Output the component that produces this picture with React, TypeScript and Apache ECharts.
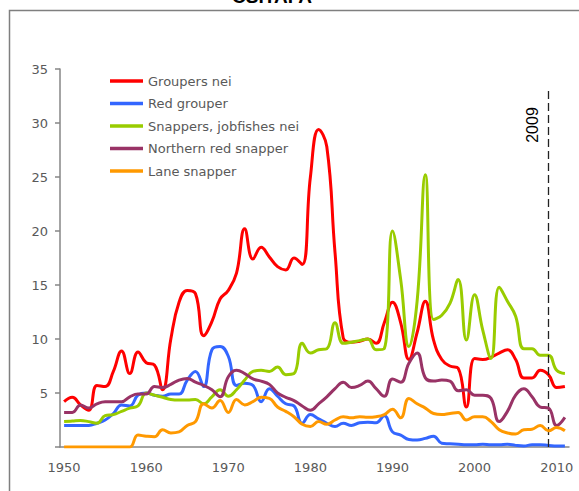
import React, { useEffect, useRef } from "react";
import * as echarts from "echarts";

const years: string[] = Array.from({ length: 62 }, (_, i) => String(1950 + i));

const groupersNei = [
  4.2, 4.6, 3.9, 3.4, 5.7, 5.6, 7.0, 8.9, 6.8, 8.8,
  7.8, 7.6, 5.3, 10.0, 13.4, 14.5, 14.2, 10.3, 11.6, 13.7,
  14.5, 16.1, 20.2, 17.4, 18.5, 17.6, 16.7, 16.4, 17.5, 16.9,
  25.0, 29.4, 27.8, 18.0, 10.1, 9.7, 9.8, 10.0, 9.6, 11.5,
  13.4, 11.5, 8.1, 10.6, 13.5, 9.9, 8.1, 7.5, 7.3, 3.7,
  8.2, 8.1, 8.3, 8.7, 9.0, 8.1, 6.4, 6.4, 7.1, 6.7,
  5.5, 5.6,
];

const redGrouper = [
  2.0, 2.0, 2.0, 2.0, 2.2, 2.5, 3.1, 3.9, 3.8, 4.8,
  5.0, 4.8, 4.7, 4.9, 4.9, 6.2, 7.0, 5.6, 9.0, 9.3,
  8.4, 5.7, 5.9, 5.7, 4.2, 5.4, 4.7, 4.0, 3.8, 2.2,
  3.0, 2.6, 2.2, 1.9, 2.2, 2.0, 2.25, 2.3, 2.25, 2.9,
  1.4, 1.1, 0.7, 0.65, 0.8, 1.0, 0.35, 0.3, 0.25, 0.2,
  0.2, 0.25, 0.2, 0.2, 0.25, 0.15, 0.1, 0.2, 0.2, 0.15,
  0.1, 0.1,
];

const snappersJobfishes = [
  2.35, 2.4, 2.45, 2.35, 2.2, 2.9, 3.0, 3.3, 3.6, 3.8,
  5.0, 4.8, 4.6, 4.4, 4.35, 4.35, 4.4, 4.0, 4.65, 5.3,
  4.7, 5.3, 6.2, 7.0, 7.1, 7.0, 7.4, 6.7, 6.8, 9.6,
  8.7, 9.0, 9.1, 11.5, 9.6, 9.7, 9.85, 10.0, 9.0, 9.1,
  20.0, 15.5, 9.3, 13.5, 25.2, 11.8, 12.2, 13.3, 15.5, 9.9,
  14.1, 10.8, 8.2, 14.8, 13.5, 12.1, 9.1, 9.1, 8.5, 8.5,
  7.1, 6.8,
];

const northernRedSnapper = [
  3.2, 3.2, 3.9, 3.6, 4.0, 4.2, 4.2, 4.2, 4.65, 4.9,
  4.9, 5.6, 5.5, 5.8, 6.2, 6.35, 6.0, 5.7, 5.3, 4.65,
  6.5, 7.1, 6.8, 6.3, 6.1, 5.8, 5.0, 4.6, 4.3, 3.8,
  3.4, 4.0, 4.65, 5.4, 6.0, 5.5, 5.7, 6.1, 5.4, 4.7,
  6.3, 6.0, 7.75, 8.7, 6.4, 6.1, 6.2, 6.1, 5.2, 5.3,
  4.8, 4.8, 4.5, 2.35, 3.3, 4.8, 5.4, 4.65, 3.7, 3.6,
  2.0, 2.75,
];

const laneSnapper = [
  0, 0, 0, 0, 0, 0, 0, 0, 0, 1.1,
  1.0, 0.95, 1.6, 1.3, 1.4, 2.0, 2.35, 4.0, 3.6, 4.3,
  3.2, 4.4, 3.9, 4.2, 4.6, 4.5, 3.7, 3.3, 2.8, 2.1,
  1.9, 2.35, 2.1, 2.5, 2.8, 2.7, 2.8, 2.75, 2.8, 3.0,
  3.5, 2.7, 4.5, 4.0, 3.6, 3.1, 3.0, 3.1, 3.2, 2.5,
  2.8, 2.8, 2.35, 1.6, 1.3, 1.2, 1.6, 1.65, 2.0, 1.5,
  1.8, 1.5,
];

const seriesNames = [
  "Groupers nei",
  "Red grouper",
  "Snappers, jobfishes nei",
  "Northern red snapper",
  "Lane snapper",
];
const seriesColors = ["#ff0000", "#3366ff", "#99cc00", "#993366", "#ff9900"];
const seriesData = [groupersNei, redGrouper, snappersJobfishes, northernRedSnapper, laneSnapper];

const markerYear = "2009";
const markerTop = 33;
const titleText = "CSITAFA";

export default function App() {
  const ref = useRef<HTMLDivElement>(null);
  useEffect(() => {
    const chart = echarts.init(ref.current!, null, { renderer: "svg" });
    const axisColor = "#868686";
    const labelColor = "#595959";
    const font = "DejaVu Sans";
    chart.setOption({
      animation: false,
      backgroundColor: "#ffffff",
      grid: { left: 60, right: 10, top: 69, bottom: 44, containLabel: false },
      legend: {
        data: seriesNames,
        orient: "vertical",
        left: 110,
        top: 74.5,
        padding: 0,
        icon: "rect",
        itemWidth: 33,
        itemHeight: 3.5,
        itemGap: 9.5,
        textStyle: { color: labelColor, fontSize: 13, fontFamily: font, lineHeight: 13 },
      },
      xAxis: {
        type: "category",
        data: years,
        boundaryGap: true,
        axisLine: { lineStyle: { color: axisColor, width: 1.5 } },
        axisTick: { interval: 9, alignWithLabel: false, length: 5, lineStyle: { color: axisColor, width: 1.5 } },
        axisLabel: { interval: 9, color: labelColor, fontSize: 13, fontFamily: font, margin: 14 },
        splitLine: { show: false },
      },
      yAxis: {
        type: "value",
        min: 0,
        max: 35,
        interval: 5,
        axisLine: { show: true, lineStyle: { color: axisColor, width: 1.5 } },
        axisTick: { show: true, length: 5, lineStyle: { color: axisColor, width: 1.5 } },
        axisLabel: {
          color: labelColor,
          fontSize: 13,
          fontFamily: font,
          margin: 12,
          formatter: (v: number) => (v === 0 ? "" : String(v)),
        },
        splitLine: { show: false },
      },
      series: seriesNames.map((name, i) => ({
        name,
        type: "line",
        data: seriesData[i],
        smooth: 0.45,
        showSymbol: false,
        symbol: "none",
        lineStyle: { color: seriesColors[i], width: 3 },
        itemStyle: { color: seriesColors[i] },
        z: 2 + i,
        ...(i === 0
          ? {
              markLine: {
                silent: true,
                symbol: ["none", "none"],
                label: { show: false },
                lineStyle: { color: "#222222", type: [8, 4], width: 1.3 },
                data: [[{ coord: [markerYear, 0] }, { coord: [markerYear, markerTop] }]],
              },
            }
          : {}),
      })),
      graphic: [
        {
          type: "rect",
          shape: { x: 9.5, y: 10.5, width: 700, height: 700 },
          style: { fill: "none", stroke: "#7f7f7f", lineWidth: 1.5 },
          silent: true,
        },
        {
          type: "text",
          x: 272,
          y: 6,
          style: {
            text: titleText,
            fill: "#000000",
            font: "bold 19px 'Liberation Sans'",
            align: "center",
            verticalAlign: "bottom",
            textAlign: "center",
            textVerticalAlign: "bottom",
          },
        },
        {
          type: "text",
          x: 532.5,
          y: 125,
          rotation: Math.PI / 2,
          style: {
            text: markerYear,
            fill: "#000000",
            font: "16px 'Liberation Sans'",
            align: "center",
            verticalAlign: "middle",
            textAlign: "center",
            textVerticalAlign: "middle",
          },
        },
      ],
    });
    return () => chart.dispose();
  }, []);
  return (
    <div
      ref={ref}
      style={{ position: "absolute", left: 0, top: 0, width: 579, height: 491 }}
    />
  );
}
